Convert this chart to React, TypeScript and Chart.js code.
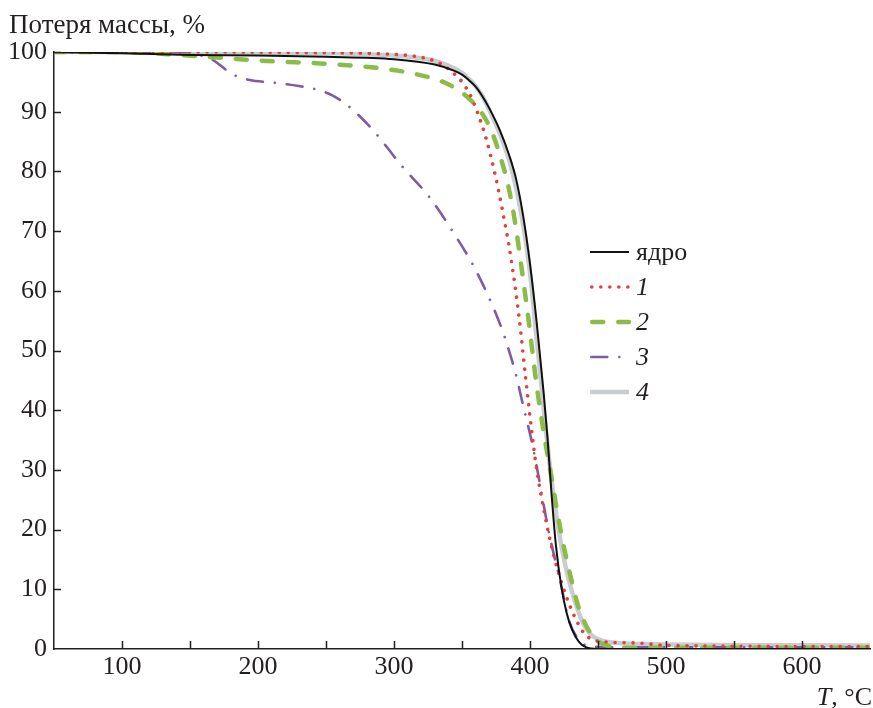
import React, { useEffect, useRef } from 'react';
import { Chart, registerables } from 'chart.js';

Chart.register(...registerables);

const FONT = '"Liberation Serif", "Times New Roman", serif';
const INK = '#231f20';
const FS = 26;

// ---- data (temperature °C, mass %) ----
const tempCore = [50, 100, 150, 200, 250, 300, 330, 345, 350, 355, 360, 365, 370, 378, 385, 390, 395, 400, 405, 410, 413, 416, 419, 423, 427, 431, 436, 441, 450, 650];
const massCore = [100, 99.8, 99.5, 99.4, 99.2, 98.8, 97.9, 96.8, 96.2, 95.3, 94.2, 92.6, 90.6, 86.8, 82.5, 78.5, 72.5, 64.5, 54.5, 43, 35, 25.5, 17.5, 10.5, 6, 3.2, 1.2, 0.3, 0, 0];

const temp1 = [50, 150, 230, 300, 320, 333, 343, 350, 356, 362, 368, 374, 380, 386, 392, 397, 401, 405, 410, 415, 420, 428, 438, 444, 455, 480, 500, 650];
const mass1 = [100, 100, 99.9, 99.6, 99.1, 98.2, 96.6, 95, 92.8, 89.5, 85.3, 79.8, 73.2, 65.5, 55.5, 45, 37, 30, 23.5, 18, 13.5, 8, 3.2, 1.8, 1.2, 1, 0.6, 0.4];

const temp2 = [50, 100, 142, 206, 252, 289, 316, 338, 350, 357, 365, 372, 378, 384, 389, 394, 399, 405, 411, 416, 420, 425, 430, 435, 440, 446, 452, 460, 470, 650];
const mass2 = [100, 100, 99.5, 98.5, 98, 97.3, 96.3, 94.8, 93.2, 91.8, 89.6, 86.6, 82.6, 77.6, 71.5, 63.5, 55, 44, 35, 28.5, 23, 17, 12, 7.5, 4.5, 2.2, 1, 0.4, 0.2, 0.2];

const temp3 = [50, 150, 157, 166.6, 181, 194, 210, 230, 245, 255, 265, 275, 285, 295, 305, 326, 343, 360, 377, 382, 389.6, 394, 402, 405, 414, 422.6, 428.5, 436, 443, 460, 650];
const mass3 = [100, 100, 99.5, 98.7, 96.3, 95.3, 94.9, 94.3, 93.6, 92.7, 91.2, 89.2, 86.8, 84, 81.1, 75.7, 70, 63.5, 55, 51.8, 46, 41.7, 34, 30.5, 19.4, 11, 4.9, 1.5, 0.5, 0.3, 0.3];

const temp4 = [50, 100, 200, 300, 330, 345, 350, 355, 360, 365, 370, 378, 385, 390, 395, 400, 404, 408, 412, 416, 421, 426, 431, 436, 441, 447, 455, 465, 490, 650];
const mass4 = [100, 100, 99.9, 99.4, 98.5, 97.2, 96.5, 95.5, 94.3, 92.6, 90.3, 86.2, 81.6, 77, 71, 63, 54, 45, 36, 28, 20, 14, 9.5, 6, 3.5, 2, 1.3, 1, 0.8, 0.6];

const seriesLabels = ['ядро', '1', '2', '3', '4'];
const xTickValues = [100, 150, 200, 250, 300, 350, 400, 450, 500, 550, 600];
const yTickValues = [10, 20, 30, 40, 50, 60, 70, 80, 90, 100];

const toPoints = (xs: number[], ys: number[]) => xs.map((x, i) => ({ x, y: ys[i] }));

type Style = { color: string; width: number; dash: number[]; cap: CanvasLineCap };
const styles: Style[] = [
  { color: '#111111', width: 2, dash: [], cap: 'butt' },
  { color: '#e0413b', width: 3.6, dash: [0.01, 9], cap: 'round' },
  { color: '#8cbc48', width: 4.5, dash: [11, 15], cap: 'round' },
  { color: '#7a5ca8', width: 2.6, dash: [16, 12, 0.01, 12], cap: 'round' },
  { color: '#c9cdd0', width: 4.5, dash: [], cap: 'butt' },
];

const overlay = {
  id: 'overlay',
  afterDraw(chart: any) {
    const ctx: CanvasRenderingContext2D = chart.ctx;
    const xs = chart.scales.x;
    const ys = chart.scales.y;
    const area = chart.chartArea;
    ctx.save();
    // inward tick marks
    ctx.strokeStyle = INK;
    ctx.lineWidth = 1.5;
    ctx.setLineDash([]);
    xTickValues.forEach((v) => {
      const px = Math.round(xs.getPixelForValue(v)) + 0.5;
      ctx.beginPath();
      ctx.moveTo(px, area.bottom);
      ctx.lineTo(px, area.bottom - 8);
      ctx.stroke();
    });
    yTickValues.forEach((v) => {
      const py = Math.round(ys.getPixelForValue(v)) + 0.5;
      ctx.beginPath();
      ctx.moveTo(area.left, py);
      ctx.lineTo(area.left + 7, py);
      ctx.stroke();
    });

    // axis titles
    ctx.fillStyle = INK;
    ctx.textBaseline = 'alphabetic';
    ctx.textAlign = 'left';
    ctx.font = `27px ${FONT}`;
    ctx.fillText('Потеря массы, %', 9, 33);

    const rest = ', °C';
    ctx.font = `${FS}px ${FONT}`;
    const wRest = ctx.measureText(rest).width;
    ctx.font = `italic ${FS}px ${FONT}`;
    const wT = ctx.measureText('T').width;
    const xEnd = 872;
    ctx.fillText('T', xEnd - wRest - wT, 705);
    ctx.font = `${FS}px ${FONT}`;
    ctx.fillText(rest, xEnd - wRest, 705);

    // legend
    const legendY = [252, 287, 322, 357, 392];
    const x0 = 590;
    const x1 = 629;
    chart.data.datasets.forEach((ds: any, i: number) => {
      const st = styles[i];
      const y = legendY[i];
      ctx.strokeStyle = st.color;
      ctx.lineWidth = st.width;
      ctx.lineCap = st.cap;
      ctx.setLineDash(st.dash);
      ctx.lineDashOffset = 0;
      ctx.beginPath();
      ctx.moveTo(x0 + (st.cap === 'round' ? st.width / 2 : 0), y);
      ctx.lineTo(x1, y);
      ctx.stroke();
      ctx.setLineDash([]);
      ctx.fillStyle = INK;
      ctx.textBaseline = 'middle';
      ctx.font = i === 0 ? `${FS}px ${FONT}` : `italic ${FS}px ${FONT}`;
      ctx.fillText(ds.label, 636, y + 1);
    });
    ctx.restore();
  },
};

export default function App() {
  const ref = useRef<HTMLCanvasElement>(null);
  useEffect(() => {
    const canvas = ref.current;
    if (!canvas) return;
    const series = [
      toPoints(tempCore, massCore),
      toPoints(temp1, mass1),
      toPoints(temp2, mass2),
      toPoints(temp3, mass3),
      toPoints(temp4, mass4),
    ];
    const chart = new Chart(canvas, {
      type: 'line',
      data: {
        datasets: series.map((data, i) => ({
          label: seriesLabels[i],
          data,
          borderColor: styles[i].color,
          borderWidth: styles[i].width,
          borderDash: styles[i].dash,
          borderCapStyle: styles[i].cap,
          borderJoinStyle: 'round',
          pointRadius: 0,
          fill: false,
          cubicInterpolationMode: 'monotone',
        })),
      },
      options: {
        animation: false,
        responsive: false,
        devicePixelRatio: 1,
        layout: { padding: { top: 52, right: 0, bottom: 0, left: 0 } },
        plugins: { legend: { display: false }, tooltip: { enabled: false } },
        scales: {
          x: {
            type: 'linear',
            min: 50,
            max: 650,
            afterFit: (s: any) => { s.height = 59; },
            grid: { display: false, drawTicks: false },
            border: { color: INK, width: 1.5 },
            ticks: {
              stepSize: 50,
              autoSkip: false,
              maxRotation: 0,
              padding: 3,
              color: INK,
              font: { family: FONT, size: FS },
              callback: (v: any) => (Number(v) % 100 === 0 ? String(v) : ''),
            },
          },
          y: {
            type: 'linear',
            min: 0,
            max: 100,
            afterFit: (s: any) => { s.width = 54; },
            grid: { display: false, drawTicks: false },
            border: { color: INK, width: 1.5 },
            ticks: {
              stepSize: 10,
              padding: 7,
              color: INK,
              font: { family: FONT, size: FS },
            },
          },
        },
      },
      plugins: [overlay],
    } as any);
    return () => chart.destroy();
  }, []);
  return (
    <div style={{ position: 'fixed', left: 0, top: 0, width: 873, height: 708, background: '#fff' }}>
      <canvas ref={ref} width={873} height={708} style={{ display: 'block', width: 873, height: 708 }} />
    </div>
  );
}
